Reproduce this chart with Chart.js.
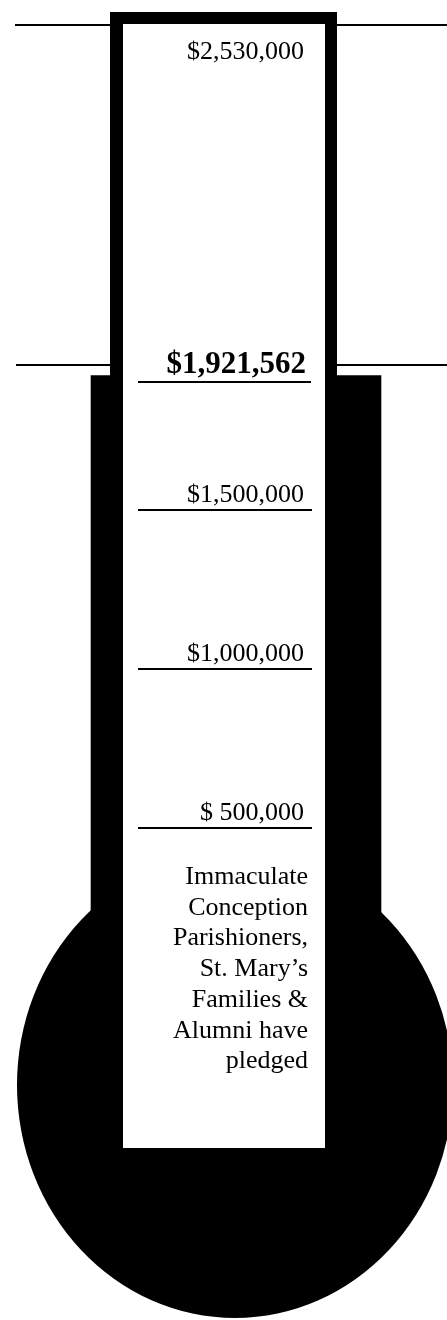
<!DOCTYPE html>
<html>
<head>
<meta charset="utf-8">
<script src="https://cdn.jsdelivr.net/npm/chart.js@4.4.1/dist/chart.umd.min.js"></script>
<style>
  html, body { margin: 0; padding: 0; background: #ffffff; }
  canvas { display: block; }
</style>
</head>
<body>
<canvas id="c" width="447" height="1320"></canvas>
<script>
// ---- data ----
const categories = ['Pledged'];
const goalValue = 2530000;
const goalLabel = '$2,530,000';
const pledgedValues = [1921562];
const pledgedLabel = '$1,921,562';
const milestoneValues = [1500000, 1000000, 500000];
const milestoneLabels = ['$1,500,000', '$1,000,000', '$ 500,000'];
const captionLines = ['Immaculate', 'Conception', 'Parishioners,', 'St. Mary\u2019s', 'Families &', 'Alumni have', 'pledged'];

// ---- drawing of thermometer body, lines and labels ----
const SERIF = '"Liberation Serif", "Times New Roman", serif';
const thermoPlugin = {
  id: 'thermo',
  beforeDatasetsDraw(chart) {
    const ctx = chart.ctx;
    const y = chart.scales.y;
    ctx.save();
    ctx.strokeStyle = '#000';
    ctx.lineWidth = 2;
    // goal line at tube top
    ctx.beginPath(); ctx.moveTo(15, 25); ctx.lineTo(447, 25); ctx.stroke();
    // pledged level line
    const py = Math.round(y.getPixelForValue(pledgedValues[0])) - 11;
    ctx.beginPath(); ctx.moveTo(16, py); ctx.lineTo(447, py); ctx.stroke();
    ctx.restore();
  },
  afterDatasetsDraw(chart) {
    const ctx = chart.ctx;
    const y = chart.scales.y;
    const bar = chart.getDatasetMeta(0).data[0];
    const base = bar.base;
    ctx.save();
    // bulb
    ctx.fillStyle = '#000';
    ctx.beginPath(); ctx.ellipse(bar.x - 1, base + 98, 218, 233, 0, 0, Math.PI * 2); ctx.fill();
    // tube
    ctx.fillStyle = '#000';
    ctx.fillRect(110, 12, 227, 1136);
    ctx.fillStyle = '#fff';
    ctx.fillRect(123, 24, 202, 1124);

    ctx.fillStyle = '#000';
    ctx.strokeStyle = '#000';
    ctx.textAlign = 'right';
    ctx.textBaseline = 'alphabetic';
    // goal label
    ctx.font = '26px ' + SERIF;
    ctx.fillText(goalLabel, 304, 59);
    // pledged label
    const pp = y.getPixelForValue(pledgedValues[0]);
    ctx.font = 'bold 31px ' + SERIF;
    ctx.fillText(pledgedLabel, 306, pp - 3);
    ctx.lineWidth = 2;
    ctx.beginPath(); ctx.moveTo(138, Math.round(pp) + 6); ctx.lineTo(311, Math.round(pp) + 6); ctx.stroke();
    // milestones
    ctx.font = '26px ' + SERIF;
    milestoneValues.forEach((v, i) => {
      const my = Math.round(y.getPixelForValue(v));
      ctx.fillText(milestoneLabels[i], 304, my - 8);
      ctx.beginPath(); ctx.moveTo(138, my); ctx.lineTo(312, my); ctx.stroke();
    });
    // caption
    const lastY = Math.round(y.getPixelForValue(milestoneValues[milestoneValues.length - 1]));
    captionLines.forEach((t, i) => {
      ctx.fillText(t, 308, lastY + 56 + i * 30.7);
    });
    ctx.restore();
  }
};

new Chart(document.getElementById('c'), {
  type: 'bar',
  data: {
    labels: categories,
    datasets: [{
      label: 'Pledged',
      data: pledgedValues,
      backgroundColor: '#000',
      borderWidth: 0,
      barThickness: 290
    }]
  },
  options: {
    responsive: false,
    animation: false,
    layout: { padding: { top: 182, bottom: 333, left: 25, right: 0 } },
    scales: {
      x: { display: false },
      y: { display: false, min: 0, max: goalValue }
    },
    plugins: { legend: { display: false }, tooltip: { enabled: false } }
  },
  plugins: [thermoPlugin]
});
</script>
</body>
</html>
